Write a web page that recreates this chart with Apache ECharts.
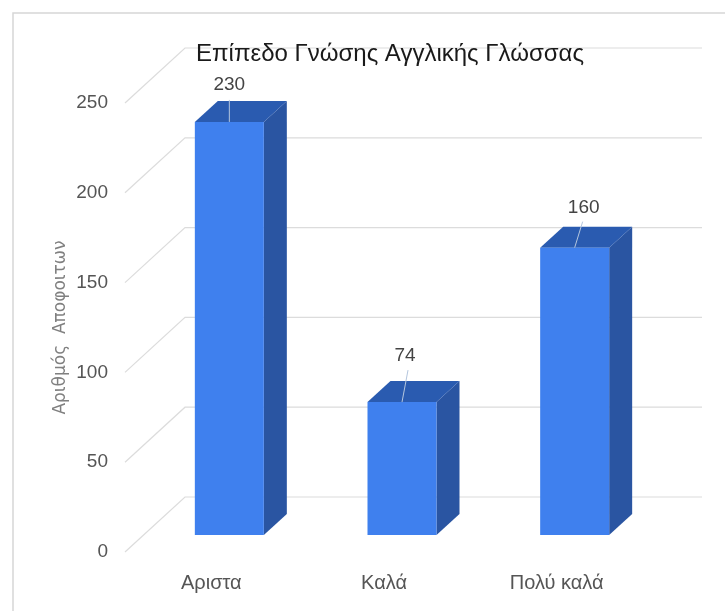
<!DOCTYPE html>
<html>
<head>
<meta charset="utf-8">
<style>
html, body { margin: 0; padding: 0; background: #fff; }
#main { width: 725px; height: 611px; }
</style>
<script src="https://cdn.jsdelivr.net/npm/echarts@6/dist/echarts.min.js"></script>
</head>
<body>
<div id="main"></div>
<script>
var categories = ['Αριστα', 'Καλά', 'Πολύ καλά'];
var values = [230, 74, 160];
var yTicks = [0, 50, 100, 150, 200, 250];

var fontName = '"Liberation Sans", Arial, sans-serif';

// bars stand in the middle of the floor, walls go to the back
var barShift = [18, -17];
var barWidth = 69;
var barDepth = [23, -21];
var wallDepth = [60, -55];
var wallRight = 702;
// leader line end and label, relative to the bar's top centre
var leaderEnd = [[0, -22], [6, -32], [8, -26]];
var labelPos = [[0, -37], [3, -46], [9, -40]];

function renderWall(params, api) {
    var pt = api.coord([0, api.value(0)]);
    var y = pt[1];
    var x = params.coordSys.x;
    return {
        type: 'polyline',
        shape: {
            points: [
                [x, y],
                [x + wallDepth[0], y + wallDepth[1]],
                [wallRight, y + wallDepth[1]]
            ]
        },
        style: { stroke: '#dcdcdc', lineWidth: 1.2, fill: null },
        silent: true
    };
}

function renderBar(params, api) {
    var i = api.value(0);
    var top = api.coord([i, api.value(1)]);
    var base = api.coord([i, 0]);
    var l = top[0] + barShift[0] - barWidth / 2;
    var r = l + barWidth;
    var t = top[1] + barShift[1];
    var b = base[1] + barShift[1];
    var dx = barDepth[0];
    var dy = barDepth[1];
    var cx = (l + r) / 2;
    return {
        type: 'group',
        children: [
            {
                type: 'polygon',
                shape: { points: [[r, t], [r + dx, t + dy], [r + dx, b + dy], [r, b]] },
                style: { fill: '#2a55a2' }
            },
            {
                type: 'polygon',
                shape: { points: [[l, t], [l + dx, t + dy], [r + dx, t + dy], [r, t]] },
                style: { fill: '#2a5bb0' }
            },
            {
                type: 'rect',
                shape: { x: l, y: t, width: barWidth, height: b - t },
                style: { fill: '#3f80ee' }
            },
            {
                type: 'line',
                shape: { x1: cx, y1: t, x2: cx + leaderEnd[i][0], y2: t + leaderEnd[i][1] },
                style: { stroke: '#b4c6de', lineWidth: 1 }
            },
            {
                type: 'text',
                style: {
                    x: cx + labelPos[i][0],
                    y: t + labelPos[i][1],
                    text: String(api.value(1)),
                    align: 'center',
                    verticalAlign: 'middle',
                    fill: '#444444',
                    font: '19px ' + fontName
                }
            }
        ]
    };
}

var myChart = echarts.init(document.getElementById('main'));

myChart.setOption({
    animation: false,
    backgroundColor: '#ffffff',
    title: {
        text: 'Επίπεδο Γνώσης Αγγλικής Γλώσσας',
        left: 385,
        top: 37,
        textAlign: 'center',
        textStyle: {
            color: '#1a1a1a',
            fontFamily: fontName,
            fontWeight: 400,
            fontSize: 24
        }
    },
    graphic: [
        {
            type: 'rect',
            z: -1,
            shape: { x: 13, y: 13, width: 760, height: 640 },
            style: { fill: '#ffffff', stroke: '#d6d6d6', lineWidth: 1.5 }
        }
    ],
    grid: { left: 125, top: 103, width: 518, height: 449 },
    xAxis: {
        type: 'category',
        data: categories,
        axisLine: { show: false },
        axisTick: { show: false },
        axisLabel: {
            margin: 21,
            color: '#555555',
            fontFamily: fontName,
            fontSize: 20
        }
    },
    yAxis: {
        type: 'value',
        min: 0,
        max: 250,
        interval: 50,
        name: 'Αριθμός  Αποφοιτων',
        nameLocation: 'middle',
        nameGap: 56,
        nameMoveOverlap: false,
        nameTextStyle: {
            color: '#808080',
            fontFamily: '"DejaVu Sans", sans-serif',
            fontSize: 17
        },
        axisLine: { show: false },
        axisTick: { show: false },
        splitLine: { show: false },
        axisLabel: {
            margin: 17,
            color: '#555555',
            fontFamily: fontName,
            fontSize: 19
        }
    },
    series: [
        {
            type: 'custom',
            renderItem: renderWall,
            data: yTicks.map(function (v) { return [v]; }),
            encode: { y: 0 },
            silent: true,
            z: 1
        },
        {
            type: 'custom',
            renderItem: renderBar,
            data: values.map(function (v, i) { return [i, v]; }),
            encode: { x: 0, y: 1 },
            z: 2
        }
    ]
});
</script>
</body>
</html>
